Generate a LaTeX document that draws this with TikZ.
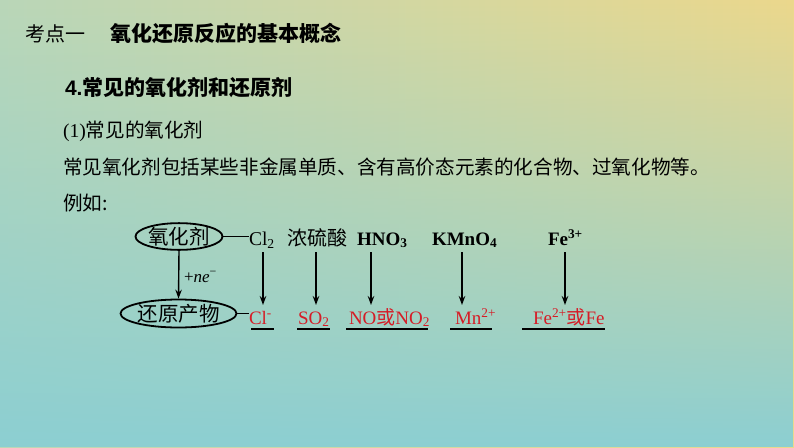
\documentclass[tikz,border=0pt]{standalone}
\usepackage{fontspec}
\setmainfont{Liberation Serif}
\newfontfamily\cjk{Noto Sans CJK SC}
\usetikzlibrary{arrows.meta,fadings,shapes.geometric}
\definecolor{bgTL}{RGB}{186,215,184}
\definecolor{bgTR}{RGB}{236,216,140}
\definecolor{bgB}{RGB}{140,207,210}
\definecolor{redtxt}{RGB}{214,28,38}
\tikzfading[name=fadeup, top color=transparent!100, middle color=transparent!55, bottom color=transparent!0]
\tikzset{
  txt/.style={anchor=base west, inner sep=0pt, outer sep=0pt},
  cjktxt/.style={txt, font=\cjk\fontsize{19.6}{22}\selectfont},
  dtop/.style={txt, font=\fontsize{19.5}{22}\selectfont},
  dred/.style={txt, font=\fontsize{19}{22}\selectfont, text=redtxt},
  oval/.style={ellipse, draw=black, line width=1.8pt, inner sep=0pt, font=\cjk\fontsize{20.5}{22}\selectfont},
  arr/.style={line width=1.4pt, -{Stealth[length=9pt,width=6.5pt]}},
  conn/.style={line width=1.4pt},
  uline/.style={line width=1.6pt}
}
\begin{document}
\begin{tikzpicture}[x=1pt,y=-1pt]
\useasboundingbox (0,0) rectangle (794,447);
\shade[left color=bgTL, right color=bgTR] (0,0) rectangle (794,447);
\fill[bgB, path fading=fadeup] (0,0) rectangle (794,447);

% headings
\node[txt, font=\cjk\fontsize{20}{24}\selectfont] (kd) at (25,41) {考点一};
\node[txt, font=\cjk\bfseries\fontsize{21}{24}\selectfont] (title) at (110,41) {氧化还原反应的基本概念};
\node[txt, font=\cjk\bfseries\fontsize{21}{24}\selectfont] (sec) at (65,95) {{\fontspec{Liberation Sans}\bfseries 4.}常见的氧化剂和还原剂};
\node[cjktxt] (sub) at (63,137) {{\rmfamily (1)}常见的氧化剂};
\node[cjktxt] (desc) at (63,174) {常见氧化剂包括某些非金属单质、含有高价态元素的化合物、过氧化物等。};
\node[cjktxt] (eg) at (63,210) {例如:};

% ellipses
\node[oval, minimum width=80pt, minimum height=25pt] (ox) at (179,236.5) {氧化剂};
\node[oval, minimum width=103pt, minimum height=28pt] (red) at (178.5,313.5) {还原产物};
\draw[arr] (ox.south) -- (red.north);
\node[txt, font=\fontsize{17}{19}\selectfont] (ne) at (184,282) {+\textit{ne}\textsuperscript{−}};

% top row
\node[dtop] (cl2) at (249,245) {Cl\textsubscript{2}};
\node[txt, font=\cjk\fontsize{20}{22}\selectfont] (h2so4) at (287,245) {浓硫酸};
\node[dtop, font=\bfseries\fontsize{19}{22}\selectfont] (hno3) at (357,245) {HNO\textsubscript{3}};
\node[dtop, font=\bfseries\fontsize{19}{22}\selectfont] (kmno4) at (432,245) {KMnO\textsubscript{4}};
\node[dtop, font=\bfseries\fontsize{19}{22}\selectfont] (fe3) at (548,245) {Fe\textsuperscript{3+}};

% bottom row (red)
\node[dred] (clm) at (249,324) {Cl\textsuperscript{-}};
\node[dred] (so2) at (298,324) {SO\textsubscript{2}};
\node[dred] (no) at (349,324) {NO{\cjk 或}NO\textsubscript{2}};
\node[dred] (mn) at (455,324) {Mn\textsuperscript{2+}};
\node[dred] (fe2) at (533,324) {Fe\textsuperscript{2+}{\cjk 或}Fe};

% connectors to ellipses
\draw[conn] (ox.east) -- (ox.east -| cl2.west);
\draw[conn] (red.east) -- (red.east -| clm.west);

% vertical arrows
\coordinate (c1t) at (263,252); \coordinate (c1b) at (263,305);
\coordinate (c2t) at (316,252); \coordinate (c2b) at (316,305);
\coordinate (c3t) at (371,252); \coordinate (c3b) at (371,305);
\coordinate (c4t) at (462,252); \coordinate (c4b) at (462,305);
\coordinate (c5t) at (565,252); \coordinate (c5b) at (565,305);
\draw[arr] (c1t) -- (c1b);
\draw[arr] (c2t) -- (c2b);
\draw[arr] (c3t) -- (c3b);
\draw[arr] (c4t) -- (c4b);
\draw[arr] (c5t) -- (c5b);

% underlines
\coordinate (u1a) at (251,329); \coordinate (u1b) at (274,329);
\coordinate (u2a) at (297,329); \coordinate (u2b) at (330,329);
\coordinate (u3a) at (346,329); \coordinate (u3b) at (428,329);
\coordinate (u4a) at (450,329); \coordinate (u4b) at (492,329);
\coordinate (u5a) at (522,329); \coordinate (u5b) at (605,329);
\draw[uline] (u1a) -- (u1b);
\draw[uline] (u2a) -- (u2b);
\draw[uline] (u3a) -- (u3b);
\draw[uline] (u4a) -- (u4b);
\draw[uline] (u5a) -- (u5b);
\end{tikzpicture}
\end{document}
